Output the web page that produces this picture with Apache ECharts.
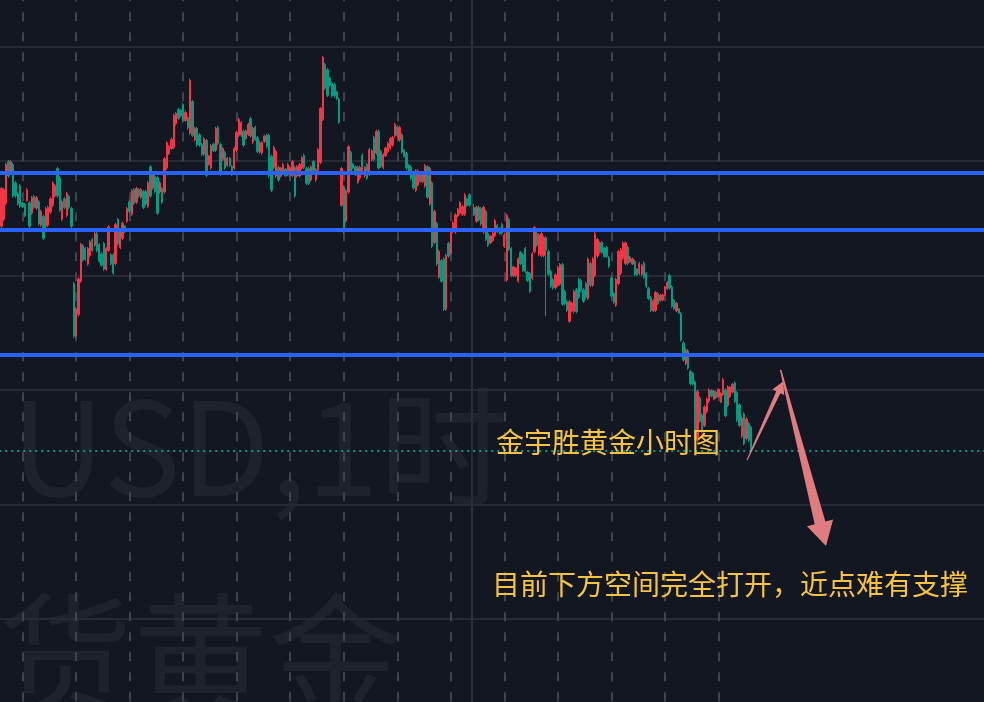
<!DOCTYPE html>
<html>
<head>
<meta charset="utf-8">
<script src="https://cdn.jsdelivr.net/npm/echarts@6/dist/echarts.min.js"></script>
<style>
html,body{margin:0;padding:0;background:#131722;overflow:hidden;}
#c{width:984px;height:702px;}
</style>
</head>
<body>
<div id="c"></div>
<script>
// ---------- data ----------
const tradingDays = ['07-01','07-02','07-03','07-04','07-05','07-08','07-09','07-10','07-11','07-12',
  '07-15','07-16','07-17','07-18','07-19','07-22','07-23','07-24','07-25','07-26'];
const sessionHours = ['01:00','02:00','03:00','04:00','05:00','06:00','07:00','08:00','09:00','10:00','11:00','12:00',
  '13:00','14:00','15:00','16:00','17:00','18:00','19:00','20:00','21:00','22:00','23:00'];
const slotCount = 425;        // visible hourly slots incl. empty future area
const firstSlotHour = 13;     // session hour index of slot 0
const lastDayLine = 309;      // last slot with a day separator
const cursorSlot = 203;       // solid vertical cursor line

// hourly candles: [open, close, low, high]
const candleValues = [
[2411.7,2407.4,2407.1,2412.0],[2408.6,2415.2,2408.3,2415.5],[2409.8,2415.0,2409.5,2415.3],[2412.6,2419.4,2412.3,2419.7],
[2419.9,2417.4,2417.1,2420.2],[2417.9,2419.9,2417.6,2420.2],[2419.4,2413.9,2413.6,2419.7],[2416.2,2413.9,2413.6,2416.5],
[2414.3,2412.5,2412.2,2414.6],[2415.7,2412.1,2411.8,2416.0],[2412.7,2412.0,2411.8,2412.9],[2412.4,2410.5,2410.2,2412.7],
[2413.1,2415.0,2412.9,2415.3],[2412.7,2408.6,2408.3,2413.0],[2410.9,2413.6,2410.6,2413.9],[2413.8,2411.9,2411.6,2414.1],
[2411.8,2413.6,2411.5,2413.9],[2412.9,2409.0,2408.7,2413.2],[2408.8,2411.2,2408.5,2411.5],[2410.3,2406.5,2406.2,2410.6],
[2408.6,2411.7,2408.3,2412.0],[2408.8,2411.9,2408.5,2412.2],[2411.1,2413.4,2410.8,2413.7],[2412.3,2416.2,2412.0,2416.5],
[2413.9,2415.7,2413.6,2416.0],[2418.7,2413.9,2413.6,2419.0],[2417.1,2411.4,2411.1,2417.4],[2409.8,2412.9,2409.5,2413.2],
[2413.4,2411.9,2411.6,2413.7],[2410.5,2414.3,2410.2,2414.6],[2413.8,2411.9,2411.6,2414.1],[2411.7,2408.6,2408.3,2412.0],
[2398.6,2389.4,2389.1,2398.9],[2389.4,2394.2,2389.1,2394.5],[2393.2,2399.4,2392.9,2399.7],[2399.0,2405.4,2398.7,2405.7],
[2405.2,2402.7,2402.4,2405.5],[2404.7,2402.8,2402.5,2405.0],[2402.0,2404.7,2401.7,2405.0],[2403.5,2405.9,2403.2,2406.2],
[2406.3,2404.4,2404.1,2406.6],[2405.3,2407.3,2405.0,2407.6],[2407.3,2404.4,2404.1,2407.6],[2405.4,2402.5,2402.2,2405.7],
[2403.8,2401.8,2401.5,2404.1],[2405.6,2401.1,2400.8,2405.9],[2401.1,2404.7,2400.8,2405.0],[2404.4,2408.5,2404.1,2408.8],
[2403.6,2402.1,2401.8,2403.9],[2403.6,2400.4,2400.1,2403.9],[2402.1,2408.9,2401.8,2409.2],[2409.8,2405.5,2405.2,2410.1],
[2404.9,2407.8,2404.6,2408.1],[2406.5,2409.1,2406.2,2409.4],[2408.6,2407.6,2407.4,2408.8],[2409.5,2411.7,2409.2,2412.0],
[2412.9,2411.2,2410.9,2413.2],[2410.7,2414.8,2410.4,2415.1],[2415.0,2412.6,2412.3,2415.3],[2412.8,2415.2,2412.5,2415.5],
[2415.0,2413.9,2413.6,2415.3],[2413.7,2415.0,2413.4,2415.3],[2414.7,2411.9,2411.6,2415.0],[2414.7,2412.5,2412.2,2415.0],
[2412.1,2416.2,2411.8,2416.5],[2419.0,2413.9,2413.6,2419.3],[2415.3,2417.6,2415.0,2417.9],[2417.3,2414.7,2414.4,2417.6],
[2417.1,2410.9,2410.6,2417.4],[2414.6,2416.2,2414.3,2416.5],[2415.2,2412.8,2412.5,2415.5],[2414.6,2420.4,2414.3,2420.7],
[2418.8,2423.2,2418.5,2423.5],[2421.3,2422.6,2421.1,2422.8],[2422.2,2423.8,2422.0,2424.1],[2422.4,2428.0,2422.1,2428.3],
[2426.5,2428.3,2426.2,2428.6],[2429.0,2427.5,2427.2,2429.3],[2428.9,2427.9,2427.7,2429.1],[2429.9,2427.0,2426.7,2430.2],
[2427.1,2428.5,2426.9,2428.8],[2427.6,2425.8,2425.5,2427.9],[2424.9,2434.1,2424.6,2434.4],[2430.4,2424.5,2424.2,2430.7],
[2423.7,2425.7,2423.4,2426.0],[2425.7,2422.8,2422.5,2426.0],[2424.6,2422.8,2422.5,2424.9],[2422.9,2421.2,2420.9,2423.2],
[2421.2,2423.9,2420.9,2424.2],[2423.6,2417.5,2417.2,2423.9],[2419.4,2420.9,2419.2,2421.1],[2418.8,2422.7,2418.5,2423.0],
[2423.0,2421.8,2421.6,2423.2],[2421.9,2425.7,2421.6,2426.0],[2425.9,2423.1,2422.8,2426.2],[2422.9,2417.7,2417.4,2423.2],
[2420.3,2422.2,2420.0,2422.5],[2421.5,2418.8,2418.5,2421.8],[2419.2,2420.5,2419.0,2420.7],[2420.5,2419.2,2419.0,2420.7],
[2419.1,2417.6,2417.4,2419.3],[2418.8,2422.2,2418.5,2422.5],[2421.9,2425.0,2421.6,2425.3],[2424.5,2427.3,2424.2,2427.6],
[2424.5,2426.7,2424.2,2427.0],[2425.2,2422.8,2422.5,2425.5],[2423.9,2425.3,2423.7,2425.5],[2424.7,2426.4,2424.4,2426.7],
[2427.4,2424.4,2424.1,2427.7],[2423.3,2425.7,2423.0,2426.0],[2425.9,2423.8,2423.5,2426.2],[2424.1,2421.7,2421.4,2424.4],
[2421.6,2423.2,2421.3,2423.5],[2421.4,2423.2,2421.1,2423.5],[2423.4,2424.4,2423.2,2424.6],[2424.5,2422.6,2422.3,2424.8],
[2424.5,2417.4,2417.1,2424.8],[2420.8,2414.9,2414.6,2421.1],[2418.9,2422.4,2418.6,2422.7],[2417.4,2421.7,2417.1,2422.0],
[2418.9,2416.7,2416.4,2419.2],[2417.3,2418.8,2417.1,2419.0],[2417.9,2419.4,2417.6,2419.7],[2418.6,2417.4,2417.2,2418.8],
[2417.7,2419.4,2417.4,2419.7],[2417.5,2418.9,2417.2,2419.2],[2417.5,2419.9,2417.2,2420.2],[2418.9,2413.9,2413.6,2419.2],
[2417.4,2419.0,2417.1,2419.3],[2417.4,2419.4,2417.1,2419.7],[2418.8,2420.6,2418.5,2420.9],[2421.0,2418.9,2418.6,2421.3],
[2418.7,2416.1,2415.8,2419.0],[2418.7,2416.1,2415.8,2419.0],[2416.7,2419.0,2416.4,2419.3],[2419.9,2418.2,2417.9,2420.2],
[2416.7,2418.5,2416.4,2418.8],[2418.4,2422.0,2418.1,2422.3],[2419.8,2429.2,2419.5,2429.5],[2427.3,2438.1,2427.0,2438.4],
[2436.9,2432.8,2432.5,2437.2],[2436.0,2431.5,2431.2,2436.3],[2434.5,2433.2,2433.0,2434.7],[2433.6,2431.4,2431.1,2433.9],
[2433.4,2431.4,2431.1,2433.7],[2432.1,2430.9,2430.7,2432.3],[2430.8,2426.8,2426.5,2431.1],[2412.3,2418.7,2412.0,2419.0],
[2415.5,2407.7,2407.4,2415.8],[2409.5,2414.8,2409.2,2415.1],[2414.6,2422.5,2414.3,2422.8],[2421.5,2417.9,2417.6,2421.8],
[2419.5,2418.8,2418.6,2419.7],[2419.0,2417.6,2417.4,2419.2],[2416.3,2418.9,2416.0,2419.2],[2417.0,2418.9,2416.7,2419.2],
[2421.0,2417.9,2417.6,2421.3],[2417.4,2418.9,2417.1,2419.2],[2419.4,2417.0,2416.7,2419.7],[2417.7,2422.0,2417.4,2422.3],
[2420.3,2421.8,2420.0,2422.1],[2424.1,2420.3,2420.0,2424.4],[2421.4,2425.2,2421.1,2425.5],[2425.2,2418.8,2418.5,2425.5],
[2421.7,2419.1,2418.8,2422.0],[2418.9,2421.1,2418.6,2421.4],[2420.9,2422.3,2420.7,2422.5],[2421.7,2423.1,2421.4,2423.4],
[2422.3,2423.9,2422.0,2424.2],[2422.8,2424.1,2422.5,2424.4],[2424.4,2426.4,2424.1,2426.7],[2426.0,2424.5,2424.2,2426.3],
[2423.7,2425.9,2423.4,2426.2],[2424.6,2421.6,2421.3,2424.9],[2421.9,2420.8,2420.6,2422.1],[2421.3,2418.8,2418.5,2421.6],
[2419.3,2418.0,2417.8,2419.5],[2419.0,2417.0,2416.7,2419.3],[2417.6,2415.3,2415.0,2417.9],[2414.9,2418.3,2414.6,2418.6],
[2415.8,2418.3,2415.5,2418.6],[2417.7,2416.4,2416.2,2417.9],[2416.4,2417.7,2416.2,2417.9],[2415.6,2419.2,2415.3,2419.5],
[2419.0,2413.7,2413.4,2419.3],[2412.5,2418.7,2412.2,2419.0],[2416.2,2405.1,2404.8,2416.5],[2405.8,2411.2,2405.5,2411.5],
[2409.1,2402.0,2401.7,2409.4],[2399.7,2404.2,2399.4,2404.5],[2402.6,2399.0,2398.7,2402.9],[2402.9,2394.1,2393.8,2403.2],
[2394.1,2403.5,2393.8,2403.8],[2405.6,2403.4,2403.1,2405.9],[2403.9,2407.5,2403.6,2407.8],[2407.7,2409.2,2407.4,2409.5],
[2407.6,2410.6,2407.3,2410.9],[2410.4,2411.6,2410.2,2411.8],[2410.9,2412.7,2410.6,2413.0],[2410.7,2412.0,2410.4,2412.3],
[2410.7,2414.1,2410.4,2414.4],[2413.4,2412.2,2412.0,2413.6],[2414.1,2412.3,2412.0,2414.4],[2412.2,2410.7,2410.4,2412.5],
[2411.9,2410.6,2410.4,2412.5],[2409.5,2411.9,2409.2,2412.2],[2411.9,2409.7,2409.4,2412.2],[2411.7,2409.0,2408.7,2412.0],
[2407.6,2411.9,2407.3,2412.2],[2411.2,2406.3,2406.0,2411.5],[2407.3,2405.3,2405.0,2407.6],[2405.7,2406.9,2405.5,2407.1],
[2406.1,2407.4,2405.9,2407.6],[2407.0,2409.6,2406.7,2409.9],[2408.8,2407.6,2407.4,2409.0],[2408.3,2407.3,2407.1,2408.5],
[2408.9,2407.4,2407.1,2409.2],[2405.1,2407.1,2404.8,2407.4],[2399.2,2410.5,2398.9,2410.8],[2409.8,2404.6,2404.3,2410.1],
[2404.7,2400.0,2399.7,2405.0],[2400.0,2401.5,2399.7,2401.7],[2400.0,2401.3,2399.7,2401.5],[2399.0,2402.9,2398.7,2403.2],
[2404.0,2402.1,2401.8,2404.3],[2403.6,2400.9,2400.6,2403.9],[2404.7,2400.7,2400.4,2405.0],[2400.6,2399.1,2398.9,2400.8],
[2400.3,2397.2,2396.9,2400.6],[2399.5,2403.8,2399.2,2404.1],[2404.2,2408.4,2403.9,2408.7],[2407.3,2405.3,2405.0,2407.6],
[2403.7,2407.1,2403.4,2407.4],[2403.5,2407.3,2403.2,2407.6],[2403.5,2406.6,2403.2,2406.9],[2406.6,2404.4,2392.9,2406.9],
[2404.2,2400.2,2399.9,2404.5],[2400.7,2398.1,2397.8,2401.0],[2399.3,2397.8,2397.5,2399.6],[2397.9,2400.1,2397.6,2400.4],
[2398.3,2401.4,2398.0,2401.7],[2398.5,2401.9,2398.2,2402.2],[2401.9,2395.0,2394.7,2402.2],[2397.2,2395.1,2394.8,2397.5],
[2395.4,2393.9,2393.6,2395.7],[2392.0,2395.4,2391.7,2395.7],[2393.8,2395.2,2393.6,2395.4],[2393.7,2397.2,2393.4,2397.5],
[2397.5,2393.7,2393.4,2397.8],[2399.3,2396.2,2395.9,2399.6],[2399.1,2397.4,2397.1,2399.4],[2397.5,2395.5,2395.2,2397.8],
[2398.6,2396.2,2395.9,2398.9],[2396.0,2402.9,2395.7,2403.2],[2402.1,2398.3,2398.0,2402.4],[2398.3,2402.9,2398.0,2403.2],
[2400.0,2407.3,2399.7,2407.6],[2403.4,2406.3,2403.1,2406.6],[2405.7,2404.1,2403.8,2406.0],[2405.8,2404.0,2403.8,2406.0],
[2404.8,2403.3,2403.1,2405.0],[2404.9,2403.4,2403.1,2405.2],[2403.1,2401.6,2401.3,2403.4],[2399.6,2396.4,2396.1,2399.9],
[2396.9,2395.3,2395.0,2397.1],[2394.8,2399.3,2394.5,2399.6],[2398.6,2404.2,2398.3,2404.5],[2400.4,2404.5,2400.1,2404.8],
[2403.0,2405.7,2402.7,2406.0],[2402.1,2405.7,2401.8,2406.0],[2404.9,2402.1,2401.8,2405.2],[2402.4,2403.2,2402.2,2403.4],
[2402.0,2402.9,2401.8,2403.1],[2402.4,2400.2,2399.9,2402.7],[2401.1,2400.1,2399.9,2401.3],[2400.4,2402.1,2400.1,2402.4],
[2400.2,2401.8,2399.9,2402.0],[2402.2,2399.7,2399.4,2402.5],[2400.3,2398.1,2397.8,2400.6],[2397.7,2396.0,2395.7,2398.0],
[2396.1,2393.9,2393.6,2396.4],[2393.9,2395.6,2393.6,2395.9],[2393.9,2397.0,2393.6,2397.3],[2396.8,2395.1,2394.8,2397.1],
[2395.6,2396.6,2395.4,2396.8],[2395.7,2396.6,2395.5,2396.8],[2396.6,2398.0,2396.4,2398.2],[2397.7,2398.8,2397.5,2399.0],
[2400.0,2397.8,2397.5,2400.3],[2398.0,2394.6,2394.3,2398.3],[2395.7,2394.2,2394.0,2395.9],[2393.8,2395.2,2393.6,2395.4],
[2394.2,2393.4,2393.3,2394.3],[2393.3,2388.7,2388.4,2393.6],[2388.2,2385.2,2384.9,2388.5],[2384.6,2387.0,2384.3,2387.3],
[2386.8,2383.8,2383.5,2387.1],[2383.2,2381.1,2380.8,2383.5],[2382.9,2381.0,2380.8,2383.1],[2381.4,2371.5,2371.2,2381.7],
[2371.2,2379.7,2370.9,2380.0],[2378.6,2374.5,2374.2,2378.9],[2375.6,2372.7,2372.4,2375.9],[2373.8,2377.0,2373.5,2377.3],
[2376.2,2378.4,2375.9,2378.7],[2378.0,2380.0,2377.7,2380.3],[2379.9,2378.9,2378.7,2380.1],[2378.4,2379.8,2378.2,2380.0],
[2379.6,2378.6,2378.4,2379.8],[2378.8,2380.1,2378.6,2380.3],[2377.9,2379.4,2377.7,2379.6],[2379.2,2381.8,2378.9,2382.1],
[2380.0,2375.5,2375.2,2380.3],[2377.3,2380.5,2377.0,2380.8],[2378.8,2380.5,2378.6,2380.7],[2379.6,2381.0,2379.4,2381.2],
[2381.2,2378.0,2377.7,2381.5],[2379.5,2374.7,2374.4,2379.8],[2377.4,2373.8,2373.5,2377.7],[2371.9,2375.1,2371.6,2375.4],
[2375.8,2370.6,2370.3,2376.1],[2371.5,2374.9,2371.2,2375.2],[2374.1,2371.2,2370.9,2374.4],[2373.5,2369.3,2369.0,2373.8]
];

const levelLines = [2417.9, 2408.0, 2386.1];   // blue horizontal levels
const lastPrice = 2369.3;                        // dotted price line
const priceMin = 2320, priceMax = 2460, priceStep = 20;

// arrow annotations in data space: [slot, price]
const upArrow = [[321.25, 2367.7], [336.85, 2381.5]];
const downArrow = [[335.7, 2383.5], [355.2, 2352.7]];

const watermarkLines = ['USD,1时', '货黄金'];
const noteTitle = '金宇胜黄金小时图';
const noteBody = '目前下方空间完全打开，近点难有支撑';

// ---------- chart ----------
const categories = [];
for (let j = 0; j < slotCount; j++) {
  const k = j + firstSlotHour;
  categories.push(tradingDays[Math.floor(k / sessionHours.length)] + ' ' + sessionHours[k % sessionHours.length]);
}
const barsPerDay = sessionHours.length;

const chart = echarts.init(document.getElementById('c'), null, {renderer: 'canvas', width: 984, height: 702});

const option = {
  backgroundColor: '#131722',
  animation: false,
  grid: {left: -0.78, top: -67.7, width: 986.94, height: 800.8, containLabel: false, outerBoundsMode: 'none'},
  xAxis: {
    type: 'category', data: categories, boundaryGap: false,
    axisLine: {show: false}, axisTick: {show: false}, axisLabel: {show: false},
    splitLine: {
      show: true,
      interval: function (i) { return (i + firstSlotHour) % barsPerDay === 0 && i <= lastDayLine; },
      lineStyle: {color: '#40444f', width: 2, type: [9, 11]}
    }
  },
  yAxis: {
    type: 'value', min: priceMin, max: priceMax, interval: priceStep,
    axisLine: {show: false}, axisTick: {show: false}, axisLabel: {show: false},
    splitLine: {show: true, lineStyle: {color: '#262a35', width: 2}}
  },
  series: [
    {
      type: 'line', data: [], z: 1, silent: true,
      markLine: {
        silent: true, symbol: ['none', 'none'], label: {show: false}, animation: false,
        data: [{xAxis: categories[cursorSlot], lineStyle: {color: '#2a2e39', width: 2, type: 'solid'}}]
      }
    },
    {
      type: 'candlestick', data: candleValues, barWidth: 1.8, z: 2,
      itemStyle: {color: '#f23645', color0: '#089981', borderColor: '#f23645', borderColor0: '#089981', borderWidth: 1},
      markLine: {
        silent: true, symbol: ['none', 'none'], label: {show: false}, animation: false,
        data: levelLines.map(v => ({yAxis: v, lineStyle: {color: '#2962ff', width: 4, type: 'solid'}}))
          .concat([{yAxis: lastPrice, lineStyle: {color: '#089981', width: 2, type: [2, 4]}}])
      }
    }
  ]
};
chart.setOption(option);

function toPx(pt) {
  const j0 = Math.floor(pt[0]);
  const a = chart.convertToPixel({gridIndex: 0}, [j0, pt[1]]);
  const b = chart.convertToPixel({gridIndex: 0}, [j0 + 1, pt[1]]);
  const f = pt[0] - j0;
  return [a[0] + (b[0] - a[0]) * f, a[1]];
}
function taperArrow(p0, p1, w0, w1, headLen, headW) {
  const dx = p1[0] - p0[0], dy = p1[1] - p0[1];
  const len = Math.hypot(dx, dy);
  const ux = dx / len, uy = dy / len, nx = -uy, ny = ux;
  const bx = p1[0] - ux * headLen, by = p1[1] - uy * headLen;
  return [
    [p0[0] + nx * w0 / 2, p0[1] + ny * w0 / 2],
    [bx + nx * w1 / 2, by + ny * w1 / 2],
    [bx + nx * headW / 2, by + ny * headW / 2],
    [p1[0], p1[1]],
    [bx - nx * headW / 2, by - ny * headW / 2],
    [bx - nx * w1 / 2, by - ny * w1 / 2],
    [p0[0] - nx * w0 / 2, p0[1] - ny * w0 / 2]
  ];
}
const arrowColor = '#e07b80';
const upPts = taperArrow(toPx(upArrow[0]), toPx(upArrow[1]), 1, 4.5, 12, 13);
const downPts = taperArrow(toPx(downArrow[0]), toPx(downArrow[1]), 1.5, 11, 24, 27);

const wmFont = '"Noto Sans CJK SC", "Noto Sans", sans-serif';
const noteFont = '"Noto Sans CJK SC", sans-serif';
chart.setOption({
  graphic: [
    {type: 'text', z: -10, silent: true, style: {x: 11, y: 447, text: watermarkLines[0], fill: '#1e222d',
      font: '130px ' + wmFont, verticalAlign: 'middle', textVerticalAlign: 'middle'}},
    {type: 'text', z: -10, silent: true, style: {x: -2, y: 656, text: watermarkLines[1], fill: '#1e222d',
      font: '135px ' + wmFont, verticalAlign: 'middle', textVerticalAlign: 'middle'}},
    {type: 'polygon', z: 50, silent: true, shape: {points: upPts}, style: {fill: arrowColor}},
    {type: 'polygon', z: 50, silent: true, shape: {points: downPts}, style: {fill: arrowColor}},
    {type: 'text', z: 60, silent: true, style: {x: 496, y: 442, text: noteTitle, fill: '#f6c344',
      font: '28px ' + noteFont, verticalAlign: 'middle', textVerticalAlign: 'middle'}},
    {type: 'text', z: 60, silent: true, style: {x: 492, y: 584, text: noteBody, fill: '#f6c344',
      font: '28px ' + noteFont, verticalAlign: 'middle', textVerticalAlign: 'middle'}}
  ]
});
</script>
</body>
</html>
